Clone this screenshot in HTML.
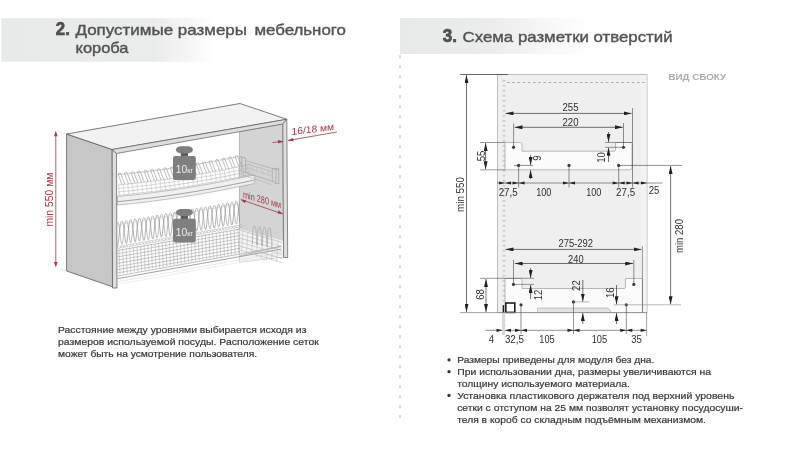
<!DOCTYPE html>
<html><head><meta charset="utf-8">
<style>
html,body{margin:0;padding:0;background:#fff;}
body{width:800px;height:450px;overflow:hidden;position:relative;font-family:"Liberation Sans",sans-serif;}
svg{position:absolute;left:0;top:0;filter:blur(0.3px);}
.hd{font-family:"Liberation Sans",sans-serif;fill:#525252;}
.bt{font-family:"Liberation Sans",sans-serif;fill:#353535;font-size:9.8px;stroke:#353535;stroke-width:0.2px;}
.dm{font-family:"Liberation Sans",sans-serif;fill:#2e2e2e;font-size:10.3px;}
.rd{font-family:"Liberation Sans",sans-serif;fill:#9a2e3c;font-size:9.4px;}
</style></head>
<body>
<svg width="800" height="450" viewBox="0 0 800 450">
<defs>
  <linearGradient id="gl" x1="0" y1="0" x2="1" y2="0">
    <stop offset="0" stop-color="#e8e9e9"/>
    <stop offset="0.38" stop-color="#eaebeb"/>
    <stop offset="0.47" stop-color="#f5f5f5"/>
    <stop offset="0.53" stop-color="#ffffff"/>
  </linearGradient>
  <linearGradient id="gr" x1="0" y1="0" x2="1" y2="0">
    <stop offset="0" stop-color="#e8e9e9"/>
    <stop offset="0.2" stop-color="#eaebeb"/>
    <stop offset="0.33" stop-color="#f3f3f3"/>
    <stop offset="0.47" stop-color="#ffffff"/>
  </linearGradient>
  <marker id="ah" viewBox="0 0 8 4" refX="8" refY="2" markerWidth="8" markerHeight="4" orient="auto-start-reverse" markerUnits="userSpaceOnUse">
    <path d="M0,0 L8,2 L0,4 z" fill="#222"/>
  </marker>
  <marker id="ahr" viewBox="0 0 7 4" refX="7" refY="2" markerWidth="7" markerHeight="4" orient="auto-start-reverse" markerUnits="userSpaceOnUse">
    <path d="M0,0 L7,2 L0,4 z" fill="#9a2e3c"/>
  </marker>
</defs>

<!-- header bands -->
<rect x="1.3" y="18.2" width="398.7" height="43.5" fill="url(#gl)"/>
<rect x="400" y="18" width="400" height="36" fill="url(#gr)"/>

<!-- header texts -->
<text class="hd" x="55.8" y="34.9" font-size="18.5" font-weight="bold" fill="#474747" stroke="#474747" stroke-width="0.7" textLength="14" lengthAdjust="spacingAndGlyphs">2.</text>
<text class="hd" x="75.5" y="35" font-size="14.8" stroke="#525252" stroke-width="0.38" textLength="171.5" lengthAdjust="spacingAndGlyphs">Допустимые размеры</text>
<text class="hd" x="254.4" y="35" font-size="14.8" stroke="#525252" stroke-width="0.38" textLength="91.6" lengthAdjust="spacingAndGlyphs">мебельного</text>
<text class="hd" x="75.5" y="52.5" font-size="14.8" stroke="#525252" stroke-width="0.38" textLength="53" lengthAdjust="spacingAndGlyphs">короба</text>

<text class="hd" x="442.8" y="42.3" font-size="18.5" font-weight="bold" fill="#474747" stroke="#474747" stroke-width="0.7" textLength="14.2" lengthAdjust="spacingAndGlyphs">3.</text>
<text class="hd" x="462.6" y="42.4" font-size="14.8" stroke="#525252" stroke-width="0.38" textLength="210" lengthAdjust="spacingAndGlyphs">Схема разметки отверстий</text>

<!-- vertical dotted divider -->
<line x1="400" y1="55" x2="400" y2="418" stroke="#c4c4c4" stroke-width="1.2" stroke-dasharray="3.3 6.7"/>

<!-- body text left -->
<text class="bt" x="58" y="333.0" textLength="248.4" lengthAdjust="spacingAndGlyphs">Расстояние между уровнями выбирается исходя из</text>
<text class="bt" x="58" y="345.0" textLength="260.8" lengthAdjust="spacingAndGlyphs">размеров используемой посуды. Расположение сеток</text>
<text class="bt" x="58" y="356.8" textLength="199.1" lengthAdjust="spacingAndGlyphs">может быть на усмотрение пользователя.</text>

<!-- body text right -->
<circle cx="449" cy="359.8" r="1.65" fill="#333"/>
<circle cx="449" cy="371.7" r="1.65" fill="#333"/>
<circle cx="449" cy="395.4" r="1.65" fill="#333"/>
<text class="bt" x="457.2" y="363.2" textLength="197.2" lengthAdjust="spacingAndGlyphs">Размеры приведены для модуля без дна.</text>
<text class="bt" x="457.2" y="375.1" textLength="253.8" lengthAdjust="spacingAndGlyphs">При использовании дна, размеры увеличиваются на</text>
<text class="bt" x="457.2" y="387.0" textLength="172.8" lengthAdjust="spacingAndGlyphs">толщину используемого материала.</text>
<text class="bt" x="457.2" y="399.0" textLength="277.2" lengthAdjust="spacingAndGlyphs">Установка пластикового держателя под верхний уровень</text>
<text class="bt" x="457.2" y="410.9" textLength="285.8" lengthAdjust="spacingAndGlyphs">сетки с отступом на 25 мм позволят установку посудосуши-</text>
<text class="bt" x="457.2" y="422.7" textLength="248.8" lengthAdjust="spacingAndGlyphs">теля в короб со складным подъёмным механизмом.</text>

<!-- ===== RIGHT DIAGRAM ===== -->
<g id="rightdiag">
  <!-- panel -->
  <rect x="497.5" y="74.5" width="149.5" height="238" fill="#efefef" stroke="#bcbcbc" stroke-width="1"/>
  <rect x="641" y="75" width="5.5" height="237" fill="#f3f3f3"/>
  <!-- left hatch column -->
  <line x1="504" y1="80" x2="504" y2="335" stroke="#c6c6c6" stroke-width="2.6" stroke-dasharray="1.6 3.4"/>
  <!-- top dashed -->
  <line x1="507" y1="82.5" x2="647" y2="82.5" stroke="#9a9a9a" stroke-width="0.8" stroke-dasharray="2.6 2.6"/>

  <!-- upper bracket -->
  <path d="M505,142.5 H520.5 Q522,142.5 522,144 V151.2 H614 Q615.5,151.2 615.5,149.7 V142.5 H631 Q632,142.5 632,143.5 V167.5 Q632,169.8 629.5,169.8 H505 Z" fill="#fbfbfb" stroke="#a8a8a8" stroke-width="0.8"/>
  <!-- lower bracket -->
  <path d="M505,278.5 H520.5 Q522,278.5 522,280 V288.5 H624 Q625.5,288.5 625.5,287 V278.5 H642.5 V312.5 H505 Z" fill="#fbfbfb" stroke="#a8a8a8" stroke-width="0.8"/>
  <!-- bottom profile strip -->
  <path d="M537.5,312 V308 H608 L610.5,310.5 V312" fill="#e2e2e2" stroke="#b0b0b0" stroke-width="0.7"/>
  <!-- U profile square -->
  <rect x="505.8" y="303" width="9" height="9.4" fill="#fff" stroke="#1e1e1e" stroke-width="1.6"/>
  <line x1="503.4" y1="305.2" x2="503.4" y2="313" stroke="#1e1e1e" stroke-width="1.4"/>

  <!-- main outline lines -->
  <line x1="460" y1="74.5" x2="508" y2="74.5" stroke="#444" stroke-width="0.8"/>
  <line x1="460" y1="312.6" x2="647" y2="312.6" stroke="#8a8a8a" stroke-width="0.8"/>

  <!-- min 550 -->
  <line x1="466.5" y1="75" x2="466.5" y2="312" stroke="#333" stroke-width="0.7" marker-start="url(#ah)" marker-end="url(#ah)"/>
  <text class="dm" transform="translate(463.6,194.5) rotate(-90)" text-anchor="middle" textLength="35.0" lengthAdjust="spacingAndGlyphs">min 550</text>

  <!-- 55 -->
  <line x1="480" y1="142.5" x2="505" y2="142.5" stroke="#555" stroke-width="0.6"/>
  <line x1="480" y1="169.8" x2="505" y2="169.8" stroke="#555" stroke-width="0.6"/>
  <line x1="485.6" y1="143" x2="485.6" y2="169.3" stroke="#333" stroke-width="0.7" marker-start="url(#ah)" marker-end="url(#ah)"/>
  <text class="dm" transform="translate(484.5,155.9) rotate(-90)" text-anchor="middle" textLength="10.6" lengthAdjust="spacingAndGlyphs">55</text>

  <!-- 255 -->
  <line x1="505.5" y1="113.4" x2="631.5" y2="113.4" stroke="#333" stroke-width="0.7" marker-start="url(#ah)" marker-end="url(#ah)"/>
  <text class="dm" x="570.5" y="110.6" text-anchor="middle" textLength="16.0" lengthAdjust="spacingAndGlyphs">255</text>
  <line x1="632.5" y1="108" x2="632.5" y2="187.5" stroke="#444" stroke-width="0.6"/>
  <!-- 220 -->
  <line x1="514.5" y1="127.3" x2="622.8" y2="127.3" stroke="#333" stroke-width="0.7" marker-start="url(#ah)" marker-end="url(#ah)"/>
  <text class="dm" x="570.5" y="126.3" text-anchor="middle" textLength="16.0" lengthAdjust="spacingAndGlyphs">220</text>
  <line x1="513.6" y1="123.5" x2="513.6" y2="147.3" stroke="#444" stroke-width="0.6"/>
  <line x1="623.5" y1="123" x2="623.5" y2="147.3" stroke="#444" stroke-width="0.6"/>

  <!-- holes upper -->
  <circle cx="513.6" cy="147.3" r="1.6" fill="#3a3a3a"/>
  <circle cx="623.5" cy="147.3" r="1.6" fill="#3a3a3a"/>
  <circle cx="518.6" cy="165.4" r="1.6" fill="#3a3a3a"/>
  <circle cx="569" cy="165.4" r="1.6" fill="#3a3a3a"/>
  <circle cx="618.7" cy="165.4" r="1.6" fill="#3a3a3a"/>
  <line x1="518.6" y1="165.4" x2="518.6" y2="187.5" stroke="#444" stroke-width="0.6"/>
  <line x1="569" y1="165.4" x2="569" y2="187.5" stroke="#444" stroke-width="0.6"/>
  <line x1="618.7" y1="165.4" x2="618.7" y2="187.5" stroke="#444" stroke-width="0.6"/>
  <line x1="514" y1="165.4" x2="533" y2="165.4" stroke="#444" stroke-width="0.6"/>
  <line x1="618.7" y1="165.4" x2="682" y2="165.4" stroke="#444" stroke-width="0.6"/>
  <line x1="605" y1="142.5" x2="632" y2="142.5" stroke="#555" stroke-width="0.6"/>
  <line x1="605" y1="147.3" x2="623.5" y2="147.3" stroke="#555" stroke-width="0.6"/>

  <!-- 9 -->
  <line x1="530.6" y1="155" x2="530.6" y2="165" stroke="#333" stroke-width="0.7" marker-end="url(#ah)"/>
  <line x1="530.6" y1="179" x2="530.6" y2="170.2" stroke="#333" stroke-width="0.7" marker-end="url(#ah)"/>
  <text class="dm" transform="translate(541,158) rotate(-90)" text-anchor="middle" textLength="5.3" lengthAdjust="spacingAndGlyphs">9</text>
  <!-- 10 -->
  <line x1="608.5" y1="132" x2="608.5" y2="142" stroke="#333" stroke-width="0.7" marker-end="url(#ah)"/>
  <line x1="608.5" y1="162" x2="608.5" y2="147.8" stroke="#333" stroke-width="0.7" marker-end="url(#ah)"/>
  <text class="dm" transform="translate(605,157.5) rotate(-90)" text-anchor="middle" textLength="10.6" lengthAdjust="spacingAndGlyphs">10</text>

  <!-- chain dim row y=183 -->
  <line x1="497" y1="183" x2="662.5" y2="183" stroke="#444" stroke-width="0.6"/>
  <g fill="#222">
    <path d="M505,183 l-6,-1.6 v3.2z M505,183 l6,-1.6 v3.2z"/>
    <path d="M518.6,183 l-6,-1.6 v3.2z M518.6,183 l6,-1.6 v3.2z"/>
    <path d="M569,183 l-6,-1.6 v3.2z M569,183 l6,-1.6 v3.2z"/>
    <path d="M618.7,183 l-6,-1.6 v3.2z M618.7,183 l6,-1.6 v3.2z"/>
    <path d="M632.5,183 l-6,-1.6 v3.2z M632.5,183 l6,-1.6 v3.2z"/>
    <path d="M647,183 l-6,-1.6 v3.2z"/>
  </g>
  <text class="dm" x="508.2" y="195.6" text-anchor="middle" textLength="19.0" lengthAdjust="spacingAndGlyphs">27,5</text>
  <text class="dm" x="543.8" y="195.6" text-anchor="middle" textLength="15.2" lengthAdjust="spacingAndGlyphs">100</text>
  <text class="dm" x="593.8" y="195.6" text-anchor="middle" textLength="15.2" lengthAdjust="spacingAndGlyphs">100</text>
  <text class="dm" x="625.6" y="195.6" text-anchor="middle" textLength="19.0" lengthAdjust="spacingAndGlyphs">27,5</text>
  <text class="dm" x="654" y="194.3" text-anchor="middle" textLength="10.6" lengthAdjust="spacingAndGlyphs">25</text>

  <!-- min 280 -->
  <line x1="670.6" y1="166" x2="670.6" y2="304.3" stroke="#333" stroke-width="0.7" marker-start="url(#ah)" marker-end="url(#ah)"/>
  <text class="dm" transform="translate(682.8,236) rotate(-90)" text-anchor="middle" textLength="34.0" lengthAdjust="spacingAndGlyphs">min 280</text>

  <!-- 275-292 -->
  <line x1="505.5" y1="249.4" x2="641.5" y2="249.4" stroke="#333" stroke-width="0.7" marker-start="url(#ah)" marker-end="url(#ah)"/>
  <text class="dm" x="575.8" y="247.3" text-anchor="middle" textLength="34.6" lengthAdjust="spacingAndGlyphs">275-292</text>
  <line x1="642.4" y1="246" x2="642.4" y2="312.5" stroke="#555" stroke-width="0.6"/>
  <!-- 240 -->
  <line x1="514.7" y1="263.5" x2="633.2" y2="263.5" stroke="#333" stroke-width="0.7" marker-start="url(#ah)" marker-end="url(#ah)"/>
  <text class="dm" x="575.8" y="262.5" text-anchor="middle" textLength="15.5" lengthAdjust="spacingAndGlyphs">240</text>
  <line x1="513.5" y1="260" x2="513.5" y2="284.4" stroke="#444" stroke-width="0.6"/>
  <line x1="633.8" y1="260" x2="633.8" y2="284.4" stroke="#444" stroke-width="0.6"/>

  <!-- holes lower -->
  <circle cx="513.5" cy="284.4" r="1.6" fill="#3a3a3a"/>
  <circle cx="633.8" cy="284.4" r="1.6" fill="#3a3a3a"/>
  <circle cx="521" cy="304.8" r="1.6" fill="#3a3a3a"/>
  <circle cx="573.5" cy="301.9" r="1.6" fill="#3a3a3a"/>
  <circle cx="626.3" cy="304.8" r="1.6" fill="#3a3a3a"/>
  <line x1="521" y1="304.8" x2="521" y2="334" stroke="#444" stroke-width="0.6"/>
  <line x1="573.5" y1="301.9" x2="573.5" y2="334" stroke="#444" stroke-width="0.6"/>
  <line x1="626.3" y1="304.8" x2="626.3" y2="334" stroke="#444" stroke-width="0.6"/>
  <line x1="573.5" y1="301.9" x2="589.4" y2="301.9" stroke="#888" stroke-width="0.6"/>
  <line x1="613.7" y1="304.8" x2="681" y2="304.8" stroke="#888" stroke-width="0.6"/>
  <line x1="480" y1="278.3" x2="534" y2="278.3" stroke="#555" stroke-width="0.6"/>
  <line x1="513.5" y1="284.4" x2="534" y2="284.4" stroke="#555" stroke-width="0.6"/>

  <!-- 68 -->
  <line x1="486" y1="279" x2="486" y2="312" stroke="#333" stroke-width="0.7" marker-start="url(#ah)" marker-end="url(#ah)"/>
  <text class="dm" transform="translate(483.7,294.4) rotate(-90)" text-anchor="middle" textLength="10.6" lengthAdjust="spacingAndGlyphs">68</text>
  <!-- 12 -->
  <line x1="530.6" y1="268" x2="530.6" y2="278" stroke="#333" stroke-width="0.7" marker-end="url(#ah)"/>
  <line x1="530.6" y1="299" x2="530.6" y2="285" stroke="#333" stroke-width="0.7" marker-end="url(#ah)"/>
  <text class="dm" transform="translate(541.8,295) rotate(-90)" text-anchor="middle" textLength="10.6" lengthAdjust="spacingAndGlyphs">12</text>
  <!-- 22 -->
  <line x1="582.8" y1="280" x2="582.8" y2="301.5" stroke="#333" stroke-width="0.7" marker-end="url(#ah)"/>
  <line x1="582.8" y1="324" x2="582.8" y2="313" stroke="#333" stroke-width="0.7" marker-end="url(#ah)"/>
  <text class="dm" transform="translate(580.3,285.6) rotate(-90)" text-anchor="middle" textLength="10.6" lengthAdjust="spacingAndGlyphs">22</text>
  <!-- 16 -->
  <line x1="616.5" y1="285" x2="616.5" y2="304.3" stroke="#333" stroke-width="0.7" marker-end="url(#ah)"/>
  <line x1="616.5" y1="324" x2="616.5" y2="313" stroke="#333" stroke-width="0.7" marker-end="url(#ah)"/>
  <text class="dm" transform="translate(614.2,292.8) rotate(-90)" text-anchor="middle" textLength="10.6" lengthAdjust="spacingAndGlyphs">16</text>

  <!-- bottom chain -->
  <line x1="485.6" y1="330.3" x2="646.6" y2="330.3" stroke="#444" stroke-width="0.6"/>
  <line x1="646.6" y1="312.5" x2="646.6" y2="336" stroke="#666" stroke-width="0.6"/>
  <rect x="502" y="313" width="3" height="22" fill="#d8d8d8"/>
  <g fill="#222">
    <path d="M502.5,330.3 l-6,-1.6 v3.2z"/>
    <path d="M505,330.3 l6,-1.6 v3.2z"/>
    <path d="M521,330.3 l-6,-1.6 v3.2z M521,330.3 l6,-1.6 v3.2z"/>
    <path d="M573.5,330.3 l-6,-1.6 v3.2z M573.5,330.3 l6,-1.6 v3.2z"/>
    <path d="M626.3,330.3 l-6,-1.6 v3.2z M626.3,330.3 l6,-1.6 v3.2z"/>
    <path d="M646.6,330.3 l-6,-1.6 v3.2z"/>
  </g>
  <text class="dm" x="491.5" y="342.5" text-anchor="middle" textLength="5.3" lengthAdjust="spacingAndGlyphs">4</text>
  <text class="dm" x="514.4" y="342.5" text-anchor="middle" textLength="19.0" lengthAdjust="spacingAndGlyphs">32,5</text>
  <text class="dm" x="547" y="342.5" text-anchor="middle" textLength="15.5" lengthAdjust="spacingAndGlyphs">105</text>
  <text class="dm" x="599.4" y="342.5" text-anchor="middle" textLength="15.5" lengthAdjust="spacingAndGlyphs">105</text>
  <text class="dm" x="636.6" y="342.5" text-anchor="middle" textLength="10.6" lengthAdjust="spacingAndGlyphs">35</text>

  <!-- ВИД СБОКУ -->
  <text x="668.5" y="79.6" font-size="9" font-weight="bold" fill="#ababab" textLength="57.5" lengthAdjust="spacingAndGlyphs" font-family="Liberation Sans">ВИД СБОКУ</text>
</g>

<!-- ===== CABINET (placeholder) ===== -->
<g id="cab">
<defs><clipPath id="clipL"><rect x="117" y="150" width="123" height="140"/></clipPath></defs>
<polygon points="66.6,134 112.2,149.5 112.5,286.8 66.6,271" fill="#c6c7c6" stroke="#5a5a5a" stroke-width="0.8" stroke-linejoin="round"/>
<polygon points="66.6,134 240,103.5 286.8,119.3 112.2,149.5" fill="#f2f2f2" stroke="#5a5a5a" stroke-width="0.8" stroke-linejoin="round"/>
<polygon points="239.5,131.5 282.5,124 283.5,257 239.5,262" fill="#d4d4d4" stroke="#9a9a9a" stroke-width="0.6"/>
<polygon points="239.5,229 283.5,241 283.5,257 239.5,262" fill="#f4f4f4"/>
<path d="M122.0,184.6 L118.0,174.0 Q119.4,172.4 120.8,173.7 L124.8,184.3" stroke="#999" stroke-width="0.65" fill="none"/>
<path d="M128.5,183.9 L124.5,173.3 Q125.9,171.7 127.3,173.0 L131.3,183.6" stroke="#999" stroke-width="0.65" fill="none"/>
<path d="M135.0,183.2 L131.0,172.6 Q132.4,171.0 133.8,172.3 L137.8,182.9" stroke="#999" stroke-width="0.65" fill="none"/>
<path d="M141.5,182.5 L137.5,171.9 Q138.9,170.3 140.3,171.6 L144.3,182.2" stroke="#999" stroke-width="0.65" fill="none"/>
<path d="M148.0,181.7 L144.0,171.2 Q145.4,169.6 146.8,170.9 L150.8,181.4" stroke="#999" stroke-width="0.65" fill="none"/>
<path d="M154.5,180.9 L150.5,170.4 Q151.9,168.8 153.3,170.1 L157.3,180.6" stroke="#999" stroke-width="0.65" fill="none"/>
<path d="M161.0,180.0 L157.0,169.6 Q158.4,168.0 159.8,169.3 L163.8,179.7" stroke="#999" stroke-width="0.65" fill="none"/>
<path d="M167.5,179.1 L163.5,168.7 Q164.9,167.1 166.3,168.4 L170.3,178.8" stroke="#999" stroke-width="0.65" fill="none"/>
<path d="M174.0,178.2 L170.0,167.8 Q171.4,166.2 172.8,167.5 L176.8,177.9" stroke="#999" stroke-width="0.65" fill="none"/>
<path d="M180.5,177.2 L176.5,166.8 Q177.9,165.2 179.3,166.5 L183.3,176.9" stroke="#999" stroke-width="0.65" fill="none"/>
<path d="M187.0,176.2 L183.0,165.9 Q184.4,164.3 185.8,165.6 L189.8,175.9" stroke="#999" stroke-width="0.65" fill="none"/>
<path d="M193.5,175.2 L189.5,164.8 Q190.9,163.2 192.3,164.5 L196.3,174.9" stroke="#999" stroke-width="0.65" fill="none"/>
<path d="M200.0,174.1 L196.0,163.8 Q197.4,162.2 198.8,163.5 L202.8,173.8" stroke="#999" stroke-width="0.65" fill="none"/>
<path d="M206.5,173.0 L202.5,162.7 Q203.9,161.1 205.3,162.4 L209.3,172.7" stroke="#999" stroke-width="0.65" fill="none"/>
<path d="M213.0,171.8 L209.0,161.5 Q210.4,159.9 211.8,161.2 L215.8,171.5" stroke="#999" stroke-width="0.65" fill="none"/>
<path d="M219.5,170.6 L215.5,160.3 Q216.9,158.7 218.3,160.0 L222.3,170.3" stroke="#999" stroke-width="0.65" fill="none"/>
<path d="M226.0,169.3 L222.0,159.1 Q223.4,157.5 224.8,158.8 L228.8,169.0" stroke="#999" stroke-width="0.65" fill="none"/>
<path d="M232.5,168.0 L228.5,157.8 Q229.9,156.2 231.3,157.5 L235.3,167.7" stroke="#999" stroke-width="0.65" fill="none"/>
<path d="M239.0,166.7 L235.0,156.5 Q236.4,154.9 237.8,156.2 L241.8,166.4" stroke="#999" stroke-width="0.65" fill="none"/>

<polyline points="118.0,174.7 124.0,174.1 130.0,173.5 136.0,172.8 142.0,172.1 148.0,171.4 154.0,170.7 160.0,169.9 166.0,169.1 172.0,168.2 178.0,167.3 184.0,166.4 190.0,165.4 196.0,164.5 202.0,163.4 208.0,162.4 214.0,161.3 220.0,160.2 226.0,159.0 232.0,157.8 238.0,156.6" stroke="#a4a4a4" stroke-width="0.6" fill="none"/>
<polyline points="118.0,185.0 124.0,184.4 130.0,183.8 136.0,183.1 142.0,182.4 148.0,181.7 154.0,181.0 160.0,180.2 166.0,179.4 172.0,178.5 178.0,177.6 184.0,176.7 190.0,175.7 196.0,174.8 202.0,173.7 208.0,172.7 214.0,171.6 220.0,170.5 226.0,169.3 232.0,168.1 238.0,166.9 244.0,165.7 250.0,164.4" stroke="#acacac" stroke-width="0.55" fill="none"/>
<polyline points="118.0,188.5 124.0,187.9 130.0,187.3 136.0,186.6 142.0,185.9 148.0,185.2 154.0,184.5 160.0,183.7 166.0,182.9 172.0,182.0 178.0,181.1 184.0,180.2 190.0,179.2 196.0,178.3 202.0,177.2 208.0,176.2 214.0,175.1 220.0,174.0 226.0,172.8 232.0,171.6 238.0,170.4 244.0,169.2 250.0,167.9" stroke="#b8b8b8" stroke-width="0.55" fill="none"/>
<polyline points="118.0,192.0 124.0,191.4 130.0,190.8 136.0,190.1 142.0,189.4 148.0,188.7 154.0,188.0 160.0,187.2 166.0,186.4 172.0,185.5 178.0,184.6 184.0,183.7 190.0,182.7 196.0,181.8 202.0,180.7 208.0,179.7 214.0,178.6 220.0,177.5 226.0,176.3 232.0,175.1 238.0,173.9 244.0,172.7 250.0,171.4" stroke="#aaaaaa" stroke-width="0.55" fill="none"/>
<polyline points="118.0,195.3 124.0,194.7 130.0,194.1 136.0,193.4 142.0,192.7 148.0,192.0 154.0,191.3 160.0,190.5 166.0,189.7 172.0,188.8 178.0,187.9 184.0,187.0 190.0,186.0 196.0,185.1 202.0,184.0 208.0,183.0 214.0,181.9 220.0,180.8 226.0,179.6 232.0,178.4 238.0,177.2 244.0,176.0 250.0,174.7" stroke="#b4b4b4" stroke-width="0.55" fill="none"/>
<path d="M118.5,184.9 L119.7,195.3" stroke="#bcbcbc" stroke-width="0.5" fill="none"/>
<path d="M123.1,184.5 L124.3,194.8" stroke="#bcbcbc" stroke-width="0.5" fill="none"/>
<path d="M127.7,184.0 L128.9,194.4" stroke="#bcbcbc" stroke-width="0.5" fill="none"/>
<path d="M132.3,183.5 L133.5,193.9" stroke="#bcbcbc" stroke-width="0.5" fill="none"/>
<path d="M136.9,183.0 L138.1,193.4" stroke="#bcbcbc" stroke-width="0.5" fill="none"/>
<path d="M141.5,182.5 L142.7,192.8" stroke="#bcbcbc" stroke-width="0.5" fill="none"/>
<path d="M146.1,181.9 L147.3,192.3" stroke="#bcbcbc" stroke-width="0.5" fill="none"/>
<path d="M150.7,181.4 L151.9,191.7" stroke="#bcbcbc" stroke-width="0.5" fill="none"/>
<path d="M155.3,180.8 L156.5,191.1" stroke="#bcbcbc" stroke-width="0.5" fill="none"/>
<path d="M159.9,180.2 L161.1,190.5" stroke="#bcbcbc" stroke-width="0.5" fill="none"/>
<path d="M164.5,179.6 L165.7,189.9" stroke="#bcbcbc" stroke-width="0.5" fill="none"/>
<path d="M169.1,178.9 L170.3,189.2" stroke="#bcbcbc" stroke-width="0.5" fill="none"/>
<path d="M173.7,178.3 L174.9,188.6" stroke="#bcbcbc" stroke-width="0.5" fill="none"/>
<path d="M178.3,177.6 L179.5,187.9" stroke="#bcbcbc" stroke-width="0.5" fill="none"/>
<path d="M182.9,176.9 L184.1,187.2" stroke="#bcbcbc" stroke-width="0.5" fill="none"/>
<path d="M187.5,176.1 L188.7,186.5" stroke="#bcbcbc" stroke-width="0.5" fill="none"/>
<path d="M192.1,175.4 L193.3,185.7" stroke="#bcbcbc" stroke-width="0.5" fill="none"/>
<path d="M196.7,174.6 L197.9,184.9" stroke="#bcbcbc" stroke-width="0.5" fill="none"/>
<path d="M201.3,173.9 L202.5,184.2" stroke="#bcbcbc" stroke-width="0.5" fill="none"/>
<path d="M205.9,173.1 L207.1,183.3" stroke="#bcbcbc" stroke-width="0.5" fill="none"/>
<path d="M210.5,172.2 L211.7,182.5" stroke="#bcbcbc" stroke-width="0.5" fill="none"/>
<path d="M215.1,171.4 L216.3,181.7" stroke="#bcbcbc" stroke-width="0.5" fill="none"/>
<path d="M219.7,170.5 L220.9,180.8" stroke="#bcbcbc" stroke-width="0.5" fill="none"/>
<path d="M224.3,169.7 L225.5,179.9" stroke="#bcbcbc" stroke-width="0.5" fill="none"/>
<path d="M228.9,168.8 L230.1,179.0" stroke="#bcbcbc" stroke-width="0.5" fill="none"/>
<path d="M233.5,167.8 L234.7,178.1" stroke="#bcbcbc" stroke-width="0.5" fill="none"/>
<path d="M238.1,166.9 L239.3,177.1" stroke="#bcbcbc" stroke-width="0.5" fill="none"/>
<path d="M242.7,165.9 L243.9,176.2" stroke="#bcbcbc" stroke-width="0.5" fill="none"/>
<path d="M247.3,165.0 L248.5,175.2" stroke="#bcbcbc" stroke-width="0.5" fill="none"/>
<path d="M251.9,164.0 L253.1,174.2" stroke="#bcbcbc" stroke-width="0.5" fill="none"/>
<path d="M117.5,196.5 L123.5,195.9 L129.5,195.3 L135.5,194.7 L141.5,194.0 L147.5,193.3 L153.5,192.5 L159.5,191.7 L165.5,190.9 L171.5,190.1 L177.5,189.2 L183.5,188.3 L189.5,187.3 L195.5,186.3 L201.5,185.3 L207.5,184.3 L213.5,183.2 L219.5,182.1 L225.5,180.9 L231.5,179.7 L237.5,178.5 L243.5,177.3 L249.5,176.0 L254.0,175.0 Q256.5,178.8 254.0,183.5 L249.5,184.5 L243.5,185.8 L237.5,187.0 L231.5,188.2 L225.5,189.4 L219.5,190.6 L213.5,191.7 L207.5,192.8 L201.5,193.8 L195.5,194.8 L189.5,195.8 L183.5,196.8 L177.5,197.7 L171.5,198.6 L165.5,199.4 L159.5,200.2 L153.5,201.0 L147.5,201.8 L141.5,202.5 L135.5,203.2 L129.5,203.8 L123.5,204.4 L117.5,205.0 Z" fill="#f0f0f0" stroke="#999" stroke-width="0.6"/>
<polyline points="118.0,201.6 124.0,201.0 130.0,200.4 136.0,199.7 142.0,199.0 148.0,198.3 154.0,197.6 160.0,196.8 166.0,196.0 172.0,195.1 178.0,194.2 184.0,193.3 190.0,192.3 196.0,191.4 202.0,190.3 208.0,189.3 214.0,188.2 220.0,187.1 226.0,185.9 232.0,184.7 238.0,183.5 244.0,182.3 250.0,181.0 254.0,180.1" stroke="#8e8e8e" stroke-width="0.8" fill="none"/>
<path d="M117.5,245.0 C119.1,245.0 119.4,221.2 121.9,221.2 C124.4,221.2 124.7,243.5 126.3,243.5 C127.9,243.5 128.2,219.7 130.7,219.7 C133.2,219.7 133.5,241.9 135.1,241.9 C136.7,241.9 137.0,218.2 139.5,218.2 C142.0,218.2 142.3,240.4 143.9,240.4 C145.5,240.4 145.8,216.6 148.3,216.6 C150.8,216.6 151.1,238.8 152.7,238.8 C154.3,238.8 154.6,215.1 157.1,215.1 C159.6,215.1 159.9,237.3 161.5,237.3 C163.1,237.3 163.4,213.5 165.9,213.5 C168.4,213.5 168.7,235.8 170.3,235.8 C171.9,235.8 172.2,212.0 174.7,212.0 C177.2,212.0 177.5,234.2 179.1,234.2 C180.7,234.2 181.0,210.4 183.5,210.4 C186.0,210.4 186.3,232.7 187.9,232.7 C189.5,232.7 189.8,208.9 192.3,208.9 C194.8,208.9 195.1,231.1 196.7,231.1 C198.3,231.1 198.6,207.4 201.1,207.4 C203.6,207.4 203.9,229.6 205.5,229.6 C207.1,229.6 207.4,205.8 209.9,205.8 C212.4,205.8 212.7,228.1 214.3,228.1 C215.9,228.1 216.2,204.3 218.7,204.3 C221.2,204.3 221.5,226.5 223.1,226.5 C224.7,226.5 225.0,202.7 227.5,202.7 C230.0,202.7 230.3,225.0 231.9,225.0 C233.5,225.0 233.8,201.2 236.3,201.2 C238.8,201.2 239.1,223.4 240.7,223.4" stroke="#878787" stroke-width="0.65" fill="none" clip-path="url(#clipL)"/>
<path d="M113.1,245.8 C114.7,245.8 115.0,222.0 117.5,222.0 C120.0,222.0 120.3,244.2 121.9,244.2 C123.5,244.2 123.8,220.5 126.3,220.5 C128.8,220.5 129.1,242.7 130.7,242.7 C132.3,242.7 132.6,218.9 135.1,218.9 C137.6,218.9 137.9,241.2 139.5,241.2 C141.1,241.2 141.4,217.4 143.9,217.4 C146.4,217.4 146.7,239.6 148.3,239.6 C149.9,239.6 150.2,215.8 152.7,215.8 C155.2,215.8 155.5,238.1 157.1,238.1 C158.7,238.1 159.0,214.3 161.5,214.3 C164.0,214.3 164.3,236.5 165.9,236.5 C167.5,236.5 167.8,212.8 170.3,212.8 C172.8,212.8 173.1,235.0 174.7,235.0 C176.3,235.0 176.6,211.2 179.1,211.2 C181.6,211.2 181.9,233.4 183.5,233.4 C185.1,233.4 185.4,209.7 187.9,209.7 C190.4,209.7 190.7,231.9 192.3,231.9 C193.9,231.9 194.2,208.1 196.7,208.1 C199.2,208.1 199.5,230.4 201.1,230.4 C202.7,230.4 203.0,206.6 205.5,206.6 C208.0,206.6 208.3,228.8 209.9,228.8 C211.5,228.8 211.8,205.1 214.3,205.1 C216.8,205.1 217.1,227.3 218.7,227.3 C220.3,227.3 220.6,203.5 223.1,203.5 C225.6,203.5 225.9,225.7 227.5,225.7 C229.1,225.7 229.4,202.0 231.9,202.0 C234.4,202.0 234.7,224.2 236.3,224.2 C237.9,224.2 238.2,200.4 240.7,200.4 C243.2,200.4 243.5,222.7 245.1,222.7" stroke="#939393" stroke-width="0.62" fill="none" clip-path="url(#clipL)"/>
<path d="M117.5,225.0 L240.0,203.6" stroke="#c0c0c0" stroke-width="0.5" fill="none"/>
<ellipse cx="119.0" cy="247.2" rx="1.6" ry="1.2" fill="none" stroke="#a4a4a4" stroke-width="0.5"/>
<ellipse cx="122.2" cy="246.7" rx="1.6" ry="1.2" fill="none" stroke="#a4a4a4" stroke-width="0.5"/>
<ellipse cx="125.4" cy="246.1" rx="1.6" ry="1.2" fill="none" stroke="#a4a4a4" stroke-width="0.5"/>
<ellipse cx="128.6" cy="245.6" rx="1.6" ry="1.2" fill="none" stroke="#a4a4a4" stroke-width="0.5"/>
<ellipse cx="131.8" cy="245.0" rx="1.6" ry="1.2" fill="none" stroke="#a4a4a4" stroke-width="0.5"/>
<ellipse cx="135.0" cy="244.4" rx="1.6" ry="1.2" fill="none" stroke="#a4a4a4" stroke-width="0.5"/>
<ellipse cx="138.2" cy="243.9" rx="1.6" ry="1.2" fill="none" stroke="#a4a4a4" stroke-width="0.5"/>
<ellipse cx="141.4" cy="243.3" rx="1.6" ry="1.2" fill="none" stroke="#a4a4a4" stroke-width="0.5"/>
<ellipse cx="144.6" cy="242.8" rx="1.6" ry="1.2" fill="none" stroke="#a4a4a4" stroke-width="0.5"/>
<ellipse cx="147.8" cy="242.2" rx="1.6" ry="1.2" fill="none" stroke="#a4a4a4" stroke-width="0.5"/>
<ellipse cx="151.0" cy="241.6" rx="1.6" ry="1.2" fill="none" stroke="#a4a4a4" stroke-width="0.5"/>
<ellipse cx="154.2" cy="241.1" rx="1.6" ry="1.2" fill="none" stroke="#a4a4a4" stroke-width="0.5"/>
<ellipse cx="157.4" cy="240.5" rx="1.6" ry="1.2" fill="none" stroke="#a4a4a4" stroke-width="0.5"/>
<ellipse cx="160.6" cy="240.0" rx="1.6" ry="1.2" fill="none" stroke="#a4a4a4" stroke-width="0.5"/>
<ellipse cx="163.8" cy="239.4" rx="1.6" ry="1.2" fill="none" stroke="#a4a4a4" stroke-width="0.5"/>
<ellipse cx="167.0" cy="238.8" rx="1.6" ry="1.2" fill="none" stroke="#a4a4a4" stroke-width="0.5"/>
<ellipse cx="170.2" cy="238.3" rx="1.6" ry="1.2" fill="none" stroke="#a4a4a4" stroke-width="0.5"/>
<ellipse cx="173.4" cy="237.7" rx="1.6" ry="1.2" fill="none" stroke="#a4a4a4" stroke-width="0.5"/>
<ellipse cx="176.6" cy="237.2" rx="1.6" ry="1.2" fill="none" stroke="#a4a4a4" stroke-width="0.5"/>
<ellipse cx="179.8" cy="236.6" rx="1.6" ry="1.2" fill="none" stroke="#a4a4a4" stroke-width="0.5"/>
<ellipse cx="183.0" cy="236.0" rx="1.6" ry="1.2" fill="none" stroke="#a4a4a4" stroke-width="0.5"/>
<ellipse cx="186.2" cy="235.5" rx="1.6" ry="1.2" fill="none" stroke="#a4a4a4" stroke-width="0.5"/>
<ellipse cx="189.4" cy="234.9" rx="1.6" ry="1.2" fill="none" stroke="#a4a4a4" stroke-width="0.5"/>
<ellipse cx="192.6" cy="234.4" rx="1.6" ry="1.2" fill="none" stroke="#a4a4a4" stroke-width="0.5"/>
<ellipse cx="195.8" cy="233.8" rx="1.6" ry="1.2" fill="none" stroke="#a4a4a4" stroke-width="0.5"/>
<ellipse cx="199.0" cy="233.2" rx="1.6" ry="1.2" fill="none" stroke="#a4a4a4" stroke-width="0.5"/>
<ellipse cx="202.2" cy="232.7" rx="1.6" ry="1.2" fill="none" stroke="#a4a4a4" stroke-width="0.5"/>
<ellipse cx="205.4" cy="232.1" rx="1.6" ry="1.2" fill="none" stroke="#a4a4a4" stroke-width="0.5"/>
<ellipse cx="208.6" cy="231.6" rx="1.6" ry="1.2" fill="none" stroke="#a4a4a4" stroke-width="0.5"/>
<ellipse cx="211.8" cy="231.0" rx="1.6" ry="1.2" fill="none" stroke="#a4a4a4" stroke-width="0.5"/>
<ellipse cx="215.0" cy="230.4" rx="1.6" ry="1.2" fill="none" stroke="#a4a4a4" stroke-width="0.5"/>
<ellipse cx="218.2" cy="229.9" rx="1.6" ry="1.2" fill="none" stroke="#a4a4a4" stroke-width="0.5"/>
<ellipse cx="221.4" cy="229.3" rx="1.6" ry="1.2" fill="none" stroke="#a4a4a4" stroke-width="0.5"/>
<ellipse cx="224.6" cy="228.8" rx="1.6" ry="1.2" fill="none" stroke="#a4a4a4" stroke-width="0.5"/>
<ellipse cx="227.8" cy="228.2" rx="1.6" ry="1.2" fill="none" stroke="#a4a4a4" stroke-width="0.5"/>
<ellipse cx="231.0" cy="227.6" rx="1.6" ry="1.2" fill="none" stroke="#a4a4a4" stroke-width="0.5"/>
<ellipse cx="234.2" cy="227.1" rx="1.6" ry="1.2" fill="none" stroke="#a4a4a4" stroke-width="0.5"/>
<ellipse cx="237.4" cy="226.5" rx="1.6" ry="1.2" fill="none" stroke="#a4a4a4" stroke-width="0.5"/>
<ellipse cx="240.6" cy="226.0" rx="1.6" ry="1.2" fill="none" stroke="#a4a4a4" stroke-width="0.5"/>
<path d="M117.5,250.5 L240.0,229.1" stroke="#989898" stroke-width="0.6" fill="none"/>
<path d="M117.5,253.7 L240.0,232.3" stroke="#aaaaaa" stroke-width="0.6" fill="none"/>
<path d="M117.5,256.9 L240.0,235.5" stroke="#989898" stroke-width="0.6" fill="none"/>
<path d="M117.5,260.1 L240.0,238.7" stroke="#aaaaaa" stroke-width="0.6" fill="none"/>
<path d="M117.5,263.3 L240.0,241.9" stroke="#989898" stroke-width="0.6" fill="none"/>
<path d="M117.5,266.5 L240.0,245.1" stroke="#aaaaaa" stroke-width="0.6" fill="none"/>
<path d="M117.5,269.7 L240.0,248.3" stroke="#989898" stroke-width="0.6" fill="none"/>
<path d="M117.5,272.9 L240.0,251.5" stroke="#aaaaaa" stroke-width="0.6" fill="none"/>
<path d="M119.0,249.7 L120.0,274.6" stroke="#a8a8a8" stroke-width="0.55" fill="none"/>
<path d="M122.6,249.1 L123.6,273.9" stroke="#a8a8a8" stroke-width="0.55" fill="none"/>
<path d="M126.2,248.5 L127.2,273.3" stroke="#a8a8a8" stroke-width="0.55" fill="none"/>
<path d="M129.8,247.8 L130.8,272.7" stroke="#a8a8a8" stroke-width="0.55" fill="none"/>
<path d="M133.4,247.2 L134.4,272.0" stroke="#a8a8a8" stroke-width="0.55" fill="none"/>
<path d="M137.0,246.6 L138.0,271.4" stroke="#a8a8a8" stroke-width="0.55" fill="none"/>
<path d="M140.6,246.0 L141.6,270.8" stroke="#a8a8a8" stroke-width="0.55" fill="none"/>
<path d="M144.2,245.3 L145.2,270.2" stroke="#a8a8a8" stroke-width="0.55" fill="none"/>
<path d="M147.8,244.7 L148.8,269.5" stroke="#a8a8a8" stroke-width="0.55" fill="none"/>
<path d="M151.4,244.1 L152.4,268.9" stroke="#a8a8a8" stroke-width="0.55" fill="none"/>
<path d="M155.0,243.4 L156.0,268.3" stroke="#a8a8a8" stroke-width="0.55" fill="none"/>
<path d="M158.6,242.8 L159.6,267.6" stroke="#a8a8a8" stroke-width="0.55" fill="none"/>
<path d="M162.2,242.2 L163.2,267.0" stroke="#a8a8a8" stroke-width="0.55" fill="none"/>
<path d="M165.8,241.5 L166.8,266.4" stroke="#a8a8a8" stroke-width="0.55" fill="none"/>
<path d="M169.4,240.9 L170.4,265.7" stroke="#a8a8a8" stroke-width="0.55" fill="none"/>
<path d="M173.0,240.3 L174.0,265.1" stroke="#a8a8a8" stroke-width="0.55" fill="none"/>
<path d="M176.6,239.7 L177.6,264.5" stroke="#a8a8a8" stroke-width="0.55" fill="none"/>
<path d="M180.2,239.0 L181.2,263.9" stroke="#a8a8a8" stroke-width="0.55" fill="none"/>
<path d="M183.8,238.4 L184.8,263.2" stroke="#a8a8a8" stroke-width="0.55" fill="none"/>
<path d="M187.4,237.8 L188.4,262.6" stroke="#a8a8a8" stroke-width="0.55" fill="none"/>
<path d="M191.0,237.1 L192.0,262.0" stroke="#a8a8a8" stroke-width="0.55" fill="none"/>
<path d="M194.6,236.5 L195.6,261.3" stroke="#a8a8a8" stroke-width="0.55" fill="none"/>
<path d="M198.2,235.9 L199.2,260.7" stroke="#a8a8a8" stroke-width="0.55" fill="none"/>
<path d="M201.8,235.2 L202.8,260.1" stroke="#a8a8a8" stroke-width="0.55" fill="none"/>
<path d="M205.4,234.6 L206.4,259.4" stroke="#a8a8a8" stroke-width="0.55" fill="none"/>
<path d="M209.0,234.0 L210.0,258.8" stroke="#a8a8a8" stroke-width="0.55" fill="none"/>
<path d="M212.6,233.4 L213.6,258.2" stroke="#a8a8a8" stroke-width="0.55" fill="none"/>
<path d="M216.2,232.7 L217.2,257.6" stroke="#a8a8a8" stroke-width="0.55" fill="none"/>
<path d="M219.8,232.1 L220.8,256.9" stroke="#a8a8a8" stroke-width="0.55" fill="none"/>
<path d="M223.4,231.5 L224.4,256.3" stroke="#a8a8a8" stroke-width="0.55" fill="none"/>
<path d="M227.0,230.8 L228.0,255.7" stroke="#a8a8a8" stroke-width="0.55" fill="none"/>
<path d="M230.6,230.2 L231.6,255.0" stroke="#a8a8a8" stroke-width="0.55" fill="none"/>
<path d="M234.2,229.6 L235.2,254.4" stroke="#a8a8a8" stroke-width="0.55" fill="none"/>
<path d="M237.8,228.9 L238.8,253.8" stroke="#a8a8a8" stroke-width="0.55" fill="none"/>
<path d="M117.5,276.0 L281.0,246.6" stroke="#c4c4c4" stroke-width="1.2" fill="none"/>
<path d="M117.5,278.6 L281.0,249.2" stroke="#8c8c8c" stroke-width="0.8" fill="none"/>
<path d="M117.5,281.8 L283.0,252.0" stroke="#d6d6d6" stroke-width="0.6" fill="none"/>
<path d="M117.5,284.4 L283.0,254.6" stroke="#e2e2e2" stroke-width="0.6" fill="none"/>
<path d="M239.8,156.5 L245.5,158 L245.5,171.5 M241.8,157 L241.8,170" stroke="#a0a0a0" stroke-width="0.7" fill="none"/>
<path d="M245.5,160.5 L278.0,170.2" stroke="#a8a8a8" stroke-width="0.65" fill="none"/>
<path d="M245.5,163.5 L272.0,171.8" stroke="#b4b4b4" stroke-width="0.55" fill="none"/>
<path d="M239.5,170.5 L276.0,182.5" stroke="#a0a0a0" stroke-width="0.65" fill="none"/>
<path d="M241.0,174.5 L272.0,184.5" stroke="#b0b0b0" stroke-width="0.55" fill="none"/>
<path d="M245.0,167.0 L272.0,176.0" stroke="#b8b8b8" stroke-width="0.5" fill="none"/>
<path d="M272.3,168.4 L278.8,168.4 L278.8,183.5 L274.5,183.5 M272.3,168.4 L272.3,181.5 M276,169 L276,182" stroke="#a2a2a2" stroke-width="0.65" fill="none"/>
<path d="M250.0,163.3 L251.2,171.3" stroke="#bcbcbc" stroke-width="0.5" fill="none"/>
<path d="M256.0,165.2 L257.2,173.2" stroke="#bcbcbc" stroke-width="0.5" fill="none"/>
<path d="M262.0,166.9 L263.2,174.9" stroke="#bcbcbc" stroke-width="0.5" fill="none"/>
<path d="M268.0,168.8 L269.2,176.8" stroke="#bcbcbc" stroke-width="0.5" fill="none"/>
<path d="M239.5,230.0 L282.0,242.5" stroke="#a8a8a8" stroke-width="0.55" fill="none"/>
<path d="M239.5,234.0 L282.0,246.5" stroke="#bababa" stroke-width="0.55" fill="none"/>
<path d="M239.5,238.0 L282.0,250.5" stroke="#a8a8a8" stroke-width="0.55" fill="none"/>
<path d="M239.5,242.0 L282.0,254.5" stroke="#bababa" stroke-width="0.55" fill="none"/>
<path d="M239.5,246.0 L282.0,258.5" stroke="#a8a8a8" stroke-width="0.55" fill="none"/>
<path d="M239.5,250.0 L282.0,262.5" stroke="#bababa" stroke-width="0.55" fill="none"/>
<path d="M243.0,230.0 L241.5,252.0" stroke="#b8b8b8" stroke-width="0.5" fill="none"/>
<path d="M248.0,231.5 L246.5,253.5" stroke="#b8b8b8" stroke-width="0.5" fill="none"/>
<path d="M253.0,232.9 L251.5,254.9" stroke="#b8b8b8" stroke-width="0.5" fill="none"/>
<path d="M258.0,234.4 L256.5,256.4" stroke="#b8b8b8" stroke-width="0.5" fill="none"/>
<path d="M263.0,235.8 L261.5,257.8" stroke="#b8b8b8" stroke-width="0.5" fill="none"/>
<path d="M268.0,237.3 L266.5,259.3" stroke="#b8b8b8" stroke-width="0.5" fill="none"/>
<path d="M273.0,238.7 L271.5,260.7" stroke="#b8b8b8" stroke-width="0.5" fill="none"/>
<path d="M278.0,240.2 L276.5,262.2" stroke="#b8b8b8" stroke-width="0.5" fill="none"/>
<path d="M252.5,244.1 C252.0,219.6 257.0,219.6 256.5,245.1" stroke="#a0a0a0" stroke-width="0.6" fill="none"/>
<path d="M257.5,244.8 C257.0,220.1 262.0,220.1 261.5,245.8" stroke="#a0a0a0" stroke-width="0.6" fill="none"/>
<path d="M262.5,245.6 C262.0,220.6 267.0,220.6 266.5,246.6" stroke="#a0a0a0" stroke-width="0.6" fill="none"/>
<path d="M267.5,246.3 C267.0,221.1 272.0,221.1 271.5,247.3" stroke="#a0a0a0" stroke-width="0.6" fill="none"/>
<path d="M239.5,256.0 L281.0,246.0" stroke="#a6a6a6" stroke-width="0.7" fill="none"/>
<polygon points="112.2,149.5 116.5,153.5 117,288 112.5,288" fill="#dedede" stroke="#5a5a5a" stroke-width="0.7"/>
<polygon points="112.2,149.5 286.8,119.3 282.8,124 116.5,153.5" fill="#dedede" stroke="#5a5a5a" stroke-width="0.7"/>
<polygon points="282.8,124 286.8,119.3 287.7,257.5 283.6,257.5" fill="#dedede" stroke="#5a5a5a" stroke-width="0.7"/>
<rect x="180.8" y="151.2" width="7.2" height="5.800000000000011" fill="#5c5c5c"/>
<rect x="175.9" y="146.2" width="17" height="7" rx="5" ry="3.5" fill="#7e7e7e"/>
<rect x="173.0" y="156" width="22.8" height="23.900000000000006" rx="2.2" fill="#7f7f7f"/>
<text x="175.8" y="172.8" font-family="Liberation Sans" font-size="10.3" fill="#f0f0f0">10<tspan font-size="7.2">кг</tspan></text>
<rect x="180.8" y="213.9" width="7.2" height="5.799999999999983" fill="#5c5c5c"/>
<rect x="175.9" y="208.9" width="17" height="7" rx="5" ry="3.5" fill="#7e7e7e"/>
<rect x="173.0" y="218.7" width="22.8" height="23.700000000000017" rx="2.2" fill="#7f7f7f"/>
<text x="175.8" y="235.5" font-family="Liberation Sans" font-size="10.3" fill="#f0f0f0">10<tspan font-size="7.2">кг</tspan></text>
<line x1="55.8" y1="133" x2="55.8" y2="265.5" stroke="#a03a48" stroke-width="0.8"/>
<path d="M55.8,130.7 l-1.8,5.5 h3.6z M55.8,267.6 l-1.8,-5.5 h3.6z" fill="#a03a48"/>
<line x1="57" y1="131" x2="66" y2="133.5" stroke="#cfcfcf" stroke-width="0.5"/>
<line x1="57" y1="268" x2="66" y2="271" stroke="#cfcfcf" stroke-width="0.5"/>
<text transform="translate(52.6,199.6) rotate(-90)" text-anchor="middle" font-family="Liberation Sans" font-size="10" fill="#a03a48" textLength="54" lengthAdjust="spacingAndGlyphs">min 550 мм</text>
<path d="M272.5,142.5 L283,141.5" stroke="#a03a48" stroke-width="0.8"/>
<path d="M283.4,141.4 l-5.4,-1.4 l0.3,3.4z" fill="#a03a48"/>
<path d="M288,140.5 L337,132" stroke="#a03a48" stroke-width="0.8"/>
<path d="M287.8,140.5 l5.2,-2.6 l0.6,3.3z" fill="#a03a48"/>
<text transform="translate(291.5,135) skewY(-6.7)" font-family="Liberation Sans" font-size="9.8" fill="#a03a48" textLength="42.5" lengthAdjust="spacingAndGlyphs">16/18 мм</text>
<path d="M241,199.6 L282.5,213.9" stroke="#a03a48" stroke-width="0.8"/>
<path d="M240.5,199.4 l5.5,0.5 l-1.1,3.3z M283,214 l-5.5,-0.5 l1.1,-3.3z" fill="#a03a48"/>
<text transform="translate(243,197.8) skewY(15.4)" font-family="Liberation Sans" font-size="10" fill="#a03a48" textLength="38" lengthAdjust="spacingAndGlyphs">min 280 мм</text>
</g>
</svg>
</body></html>
